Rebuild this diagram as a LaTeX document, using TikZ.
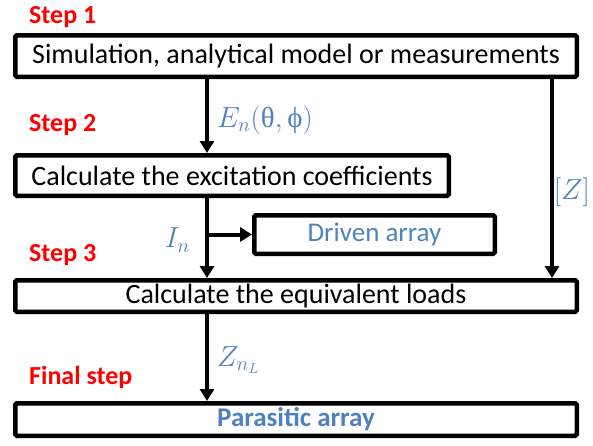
\RequirePackage{fix-cm}
\documentclass[tikz,border=0pt]{standalone}
\usepackage{fontspec}
\setmainfont{Carlito}
\newfontfamily\greekfont{Liberation Serif}
\usetikzlibrary{positioning, arrows.meta}

\definecolor{stepred}{RGB}{255,0,0}
\definecolor{officeblue}{RGB}{79,129,189}

\begin{document}
\begin{tikzpicture}[
    x=1pt, y=1pt,
    >={Triangle[length=12pt, width=14pt]},
    box/.style={
        draw, rectangle, line width=4.5pt, rounded corners=1.5pt,
        align=center, inner sep=0pt, font=\fontsize{28}{32}\selectfont
    },
    steplabel/.style={
        anchor=west, text=stepred, inner sep=0pt,
        font=\fontsize{26}{30}\selectfont\bfseries
    },
    quantity/.style={text=officeblue, inner sep=0pt, font=\fontsize{29}{33}\selectfont},
    flow/.style={->, line width=4pt}
]

\useasboundingbox (0,0) rectangle (593,-445);

% -------------------------
% Steps
% -------------------------

% Step 1
\node[steplabel] (step1) at (29, -17) {Step 1};
\node[box, minimum width=561.5pt, minimum height=41.5pt] (model) at (296, -56)
    {Simulation, analytical model or measurements};

% Step 2
\node[steplabel] (step2) at (29, -125) {Step 2};
\node[box, minimum width=433.5pt, minimum height=40.5pt] (coeffs) at (232, -175.5)
    {Calculate the excitation coefficients};

% Driven array (side branch)
\node[box, text=officeblue, font=\fontsize{27}{31}\selectfont,
      minimum width=240.5pt, minimum height=38.5pt] (driven) at (374.5, -234.5)
    {Driven array};

% Step 3
\node[steplabel] (step3) at (29, -255) {Step 3};
\node[box, minimum width=561.5pt, minimum height=31.5pt] (loads) at (296, -296)
    {Calculate the equivalent loads};

% Final step
\node[steplabel] (stepfinal) at (29, -377) {Final step};
\node[box, text=officeblue, font=\fontsize{27}{31}\selectfont\bfseries,
      minimum width=561.5pt, minimum height=32.5pt] (parasitic) at (296, -419.5)
    {Parasitic array};

% -------------------------
% Connections
% -------------------------
\coordinate (trunk) at (207, 0);
\coordinate (side) at (552, 0);
\coordinate (branch) at (207, -234.5);

% model -> coeffs
\draw[flow] (model.south -| trunk) -- (coeffs.north -| trunk);
\node[quantity, anchor=west] (field) at (217, -120)
    {$E_n(\mbox{\greekfont θ},\mbox{\greekfont ϕ})$};

% coeffs -> loads, with branch to driven array
\draw[flow] (coeffs.south -| trunk) -- (loads.north -| trunk);
\draw[flow] (branch) -- (driven.west);
\node[quantity, anchor=east] (current) at (190, -240) {$I_n$};

% model -> loads (right side)
\draw[flow] (model.south -| side) -- (loads.north -| side);
\node[quantity, anchor=east] (impedance) at (590, -192) {$[Z]$};

% loads -> parasitic
\draw[flow] (loads.south -| trunk) -- (parasitic.north -| trunk);
\node[quantity, anchor=west] (loadz) at (217, -360) {$Z_{n_L}$};

\end{tikzpicture}
\end{document}
